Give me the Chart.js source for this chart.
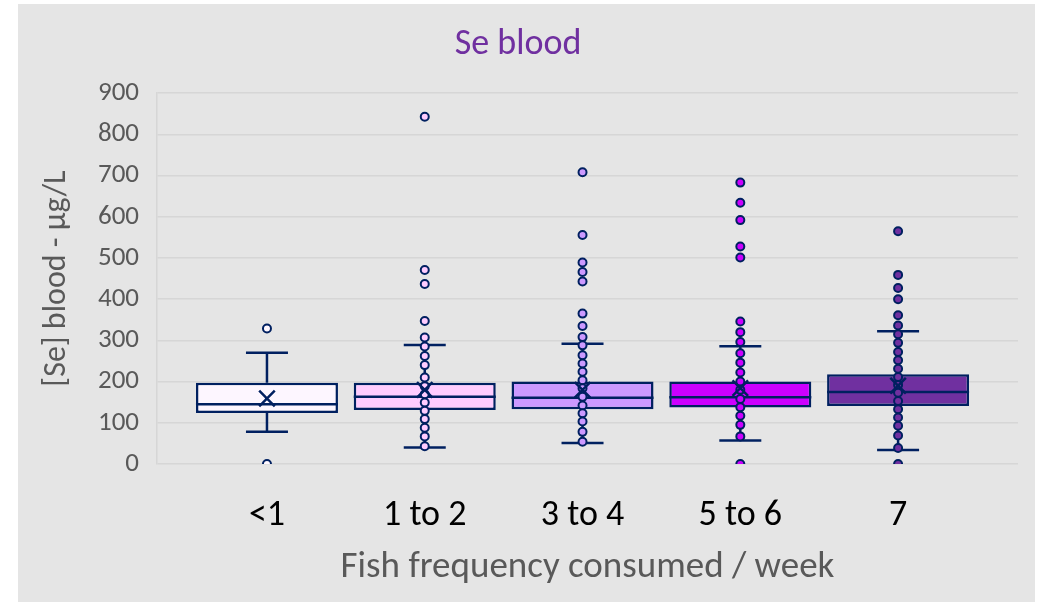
<!DOCTYPE html>
<html>
<head>
<meta charset="utf-8">
<script src="https://cdn.jsdelivr.net/npm/chart.js@4.4.1/dist/chart.umd.min.js"></script>
<style>
  html, body { margin: 0; padding: 0; background: #ffffff; }
  #wrap { position: absolute; left: 18px; top: 4px; width: 1017px; height: 598px; background: #e5e5e5; }
</style>
</head>
<body>
<div id="wrap"><canvas id="chart"></canvas></div>
<script>
// box plot summary per fish-frequency group
const categories = ['<1', '1 to 2', '3 to 4', '5 to 6', '7'];
const q1 = [124, 131, 133, 137, 141];
const q3 = [197, 197, 200, 200, 218];
const median = [145, 163, 161, 162, 175];
const mean = [159, 180, 180, 184, 190];
const whiskerLow = [78, 40, 51, 57, 34];
const whiskerHigh = [270, 289, 292, 286, 322];

// individual points drawn by excel (inner + outliers)
const points0 = [329, 0];
const points1 = [843, 471, 437, 347, 307, 285, 262, 240, 210, 189, 169, 149, 129, 109, 88, 67, 43];
const points2 = [708, 556, 489, 466, 443, 365, 335, 308, 288, 264, 244, 224, 203, 184, 163, 142, 123, 103, 78, 54];
const points3 = [683, 634, 592, 528, 501, 346, 320, 296, 269, 246, 222, 200, 180, 158, 138, 117, 95, 67, 0];
const points4 = [565, 459, 427, 400, 361, 336, 315, 294, 272, 252, 231, 211, 192, 173, 153, 133, 113, 93, 69, 39, 0];
const yTicks = [0, 100, 200, 300, 400, 500, 600, 700, 800, 900];

const navy = '#002060';
const boxFill = ['#fdf6ff', '#ffccff', '#cc99ff', '#cc00ff', '#7030a0'];
const pointFill = ['#fff8ff', '#ffccff', '#cc99ff', '#cc00ff', '#7030a0'];
const font = 'Carlito, Lato, sans-serif';

let allPoints = [points0, points1, points2, points3, points4];
let scatterData = [];
let scatterColors = [];
allPoints.forEach((pts, i) => {
  pts.forEach((v) => {
    scatterData.push({ x: i, y: v });
    scatterColors.push(pointFill[i]);
  });
});

let whiskerData = [];
let capData = [];
categories.forEach((c, i) => {
  whiskerData.push({ x: i, y: q3[i] }, { x: i, y: whiskerHigh[i] }, { x: i, y: null });
  whiskerData.push({ x: i, y: q1[i] }, { x: i, y: whiskerLow[i] }, { x: i, y: null });
  capData.push({ x: i, y: whiskerHigh[i] }, { x: i, y: whiskerLow[i] });
});

new Chart(document.getElementById('chart'), {
  type: 'bar',
  data: {
    datasets: [
      {
        type: 'bar',
        data: categories.map((c, i) => ({ x: i, y: [q1[i], q3[i]] })),
        backgroundColor: boxFill,
        borderColor: navy,
        borderWidth: 2.5,
        borderSkipped: false,
        categoryPercentage: 1,
        barPercentage: 0.9,
        order: 6
      },
      {
        type: 'line',
        data: whiskerData,
        borderColor: navy,
        borderWidth: 2.5,
        pointRadius: 0,
        spanGaps: false,
        order: 5
      },
      {
        type: 'scatter',
        data: capData,
        pointStyle: 'line',
        pointRadius: 21,
        borderColor: navy,
        borderWidth: 2.5,
        order: 4
      },
      {
        type: 'scatter',
        data: categories.map((c, i) => ({ x: i, y: median[i] })),
        pointStyle: 'line',
        pointRadius: 71,
        borderColor: navy,
        borderWidth: 2.5,
        order: 3
      },
      {
        type: 'scatter',
        data: scatterData,
        pointStyle: 'circle',
        pointRadius: 4,
        backgroundColor: scatterColors,
        borderColor: navy,
        borderWidth: 2,
        order: 2
      },
      {
        type: 'scatter',
        data: categories.map((c, i) => ({ x: i, y: mean[i] })),
        pointStyle: 'crossRot',
        pointRadius: 11,
        borderColor: navy,
        borderWidth: 2.5,
        order: 1
      }
    ]
  },
  options: {
    responsive: true,
    maintainAspectRatio: false,
    animation: false,
    events: [],
    layout: { autoPadding: false, padding: { left: 0, right: 17, top: 0, bottom: 0 } },
    plugins: {
      legend: { display: false },
      tooltip: { enabled: false },
      title: {
        display: true,
        text: 'Se blood',
        color: '#7030a0',
        font: { family: font, size: 36, weight: 'normal', lineHeight: 1.2 },
        padding: { top: 19, bottom: 27 }
      }
    },
    scales: {
      x: {
        type: 'linear',
        min: -0.697,
        max: 4.76,
        offset: false,
        grid: { display: false, offset: false },
        border: { display: false },
        afterBuildTicks: (scale) => { scale.ticks = categories.map((c, i) => ({ value: i })); },
        afterFit: (scale) => { scale.height = 138; },
        ticks: {
          color: '#000000',
          padding: 22,
          font: { family: font, size: 36 },
          callback: (v) => categories[v]
        },
        title: {
          display: true,
          text: 'Fish frequency consumed / week',
          color: '#595959',
          font: { family: font, size: 37, lineHeight: 1.2 },
          padding: { top: 0, bottom: 12 }
        }
      },
      y: {
        min: 0,
        max: 900,
        afterBuildTicks: (scale) => { scale.ticks = yTicks.map((v) => ({ value: v })); },
        afterFit: (scale) => { scale.width = 139; },
        grid: { color: '#d6d6d6', lineWidth: 1.5, drawTicks: false },
        border: { color: '#d6d6d6', width: 1.5 },
        ticks: {
          color: '#595959',
          padding: 18,
          font: { family: font, size: 27 }
        },
        title: {
          display: true,
          text: '[Se] blood - µg/L',
          color: '#595959',
          font: { family: font, size: 32, lineHeight: 1.2 },
          padding: { top: 20, bottom: 0 }
        }
      }
    }
  }
});
</script>
</body>
</html>
